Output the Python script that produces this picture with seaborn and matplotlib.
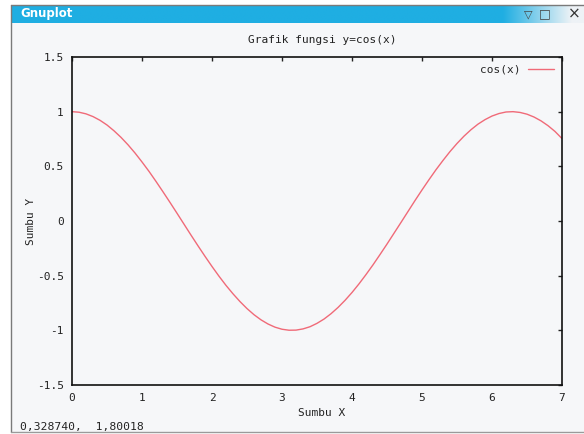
import matplotlib
matplotlib.use("Agg")
import matplotlib.pyplot as plt
import seaborn as sns
import numpy as np
import pandas as pd
from matplotlib.patches import Rectangle
from matplotlib.lines import Line2D
from matplotlib.ticker import FuncFormatter

# ---- data ----
x_vals = [0.0, 0.1, 0.2, 0.3, 0.4, 0.5, 0.6, 0.7, 0.8, 0.9,
          1.0, 1.1, 1.2, 1.3, 1.4, 1.5, 1.6, 1.7, 1.8, 1.9,
          2.0, 2.1, 2.2, 2.3, 2.4, 2.5, 2.6, 2.7, 2.8, 2.9,
          3.0, 3.1, 3.2, 3.3, 3.4, 3.5, 3.6, 3.7, 3.8, 3.9,
          4.0, 4.1, 4.2, 4.3, 4.4, 4.5, 4.6, 4.7, 4.8, 4.9,
          5.0, 5.1, 5.2, 5.3, 5.4, 5.5, 5.6, 5.7, 5.8, 5.9,
          6.0, 6.1, 6.2, 6.3, 6.4, 6.5, 6.6, 6.7, 6.8, 6.9, 7.0]
y_vals = [1.000, 0.995, 0.980, 0.955, 0.921, 0.878, 0.825, 0.765, 0.697, 0.622,
          0.540, 0.454, 0.362, 0.267, 0.170, 0.071, -0.029, -0.129, -0.227, -0.323,
          -0.416, -0.505, -0.589, -0.666, -0.737, -0.801, -0.857, -0.904, -0.942, -0.971,
          -0.990, -0.999, -0.998, -0.987, -0.967, -0.936, -0.897, -0.848, -0.791, -0.726,
          -0.654, -0.575, -0.490, -0.401, -0.307, -0.211, -0.112, -0.013, 0.087, 0.187,
          0.284, 0.378, 0.469, 0.554, 0.635, 0.709, 0.776, 0.835, 0.886, 0.927,
          0.960, 0.983, 0.997, 1.000, 0.993, 0.977, 0.951, 0.916, 0.872, 0.819, 0.754]
series_name = "cos(x)"
title_text = "Grafik fungsi y=cos(x)"
xlabel_text = "Sumbu X"
ylabel_text = "Sumbu Y"
window_title = "Gnuplot"
status_text = "0,328740,  1,80018"
x_ticks = [0, 1, 2, 3, 4, 5, 6, 7]
y_ticks = [-1.5, -1, -0.5, 0, 0.5, 1, 1.5]

df = pd.DataFrame({"x": x_vals, "y": y_vals, "series": series_name})

sns.set_style("white")
plt.rcParams["font.family"] = ["DejaVu Sans Mono", "DejaVu Sans"]
plt.rcParams["axes.unicode_minus"] = False

W, H = 584, 434
fig = plt.figure(figsize=(W / 100, H / 100), dpi=100)
fig.patch.set_facecolor("white")

def fx(px):
    return px / W

def fy(py):
    return 1 - py / H

# window background
fig.patches.append(Rectangle((fx(11), fy(432)), 1 - fx(11), fy(5) - fy(432),
                             transform=fig.transFigure, facecolor="#f6f7f9",
                             edgecolor="none", zorder=-5))
# title bar gradient
tb = fig.add_axes([fx(12), fy(23), fx(584) - fx(12), fy(5) - fy(23)])
grad = np.ones((1, 256, 3))
c1 = np.array([0x1f, 0xae, 0xe2]) / 255
c2 = np.array([0xee, 0xf2, 0xf6]) / 255
t = np.linspace(0, 1, 256)
w = np.clip((t - 0.86) / 0.12, 0, 1)
grad[0] = c1[None, :] * (1 - w[:, None]) + c2[None, :] * w[:, None]
tb.imshow(grad, aspect="auto", extent=[0, 1, 0, 1], interpolation="bilinear")
tb.set_xlim(0, 1)
tb.set_ylim(0, 1)
tb.set_axis_off()
fig.text(fx(20), fy(14), window_title, color="white", fontsize=8.5,
         fontweight="bold", family=["DejaVu Sans"], va="center", ha="left", zorder=5)
fig.text(fx(528), fy(14), "\u25bd", color="#444444", fontsize=8, va="center", ha="center",
         family=["DejaVu Sans"], zorder=5)
fig.text(fx(545), fy(14), "\u25a1", color="#444444", fontsize=9, va="center", ha="center",
         family=["DejaVu Sans"], zorder=5)
fig.text(fx(574), fy(14), "\u00d7", color="#333333", fontsize=11, va="center", ha="center",
         family=["DejaVu Sans"], zorder=5)
# window borders
fig.add_artist(Line2D([fx(11), fx(11)], [fy(5), fy(432)], color="#7a7a7a", lw=1))
fig.add_artist(Line2D([fx(11), 1], [fy(4.5), fy(4.5)], color="#7a7a7a", lw=1))
fig.add_artist(Line2D([fx(11), 1], [fy(432), fy(432)], color="#9a9a9a", lw=1))

# plot axes
ax = fig.add_axes([fx(72), fy(385), fx(562) - fx(72), fy(57) - fy(385)])
ax.set_facecolor("#f6f7f9")
sns.lineplot(data=df, x="x", y="y", hue="series", palette=["#f06a78"],
             linewidth=1.0, ax=ax)
ax.set_xlim(0, 7)
ax.set_ylim(-1.5, 1.5)
ax.set_xticks(x_ticks)
ax.set_yticks(y_ticks)
ax.xaxis.set_major_formatter(FuncFormatter(lambda v, p: "%g" % v))
ax.yaxis.set_major_formatter(FuncFormatter(lambda v, p: "%g" % v))
ax.tick_params(direction="in", length=3, width=1, top=True, right=True,
               labelsize=8, colors="#222222", pad=6)
for s in ax.spines.values():
    s.set_visible(True)
    s.set_color("#111111")
    s.set_linewidth(1.2)
ax.set_xlabel("")
ax.set_ylabel("")
fig.text(fx(322), fy(413), xlabel_text, fontsize=8, ha="center", va="center", color="#222222")
fig.text(fx(31), fy(221), ylabel_text, fontsize=8, ha="center", va="center",
         rotation=90, color="#222222")
fig.text(fx(322), fy(40), title_text, fontsize=8, ha="center", va="center", color="#222222")
fig.text(fx(20), fy(427), status_text, fontsize=8.2, ha="left", va="center", color="#222222")

leg = ax.legend(loc="upper right", frameon=False, markerfirst=False, fontsize=8,
                handlelength=2.4, borderaxespad=0.3, handletextpad=0.6)
for line in leg.get_lines():
    line.set_linewidth(1.0)

fig.savefig("out.png", dpi=100)
